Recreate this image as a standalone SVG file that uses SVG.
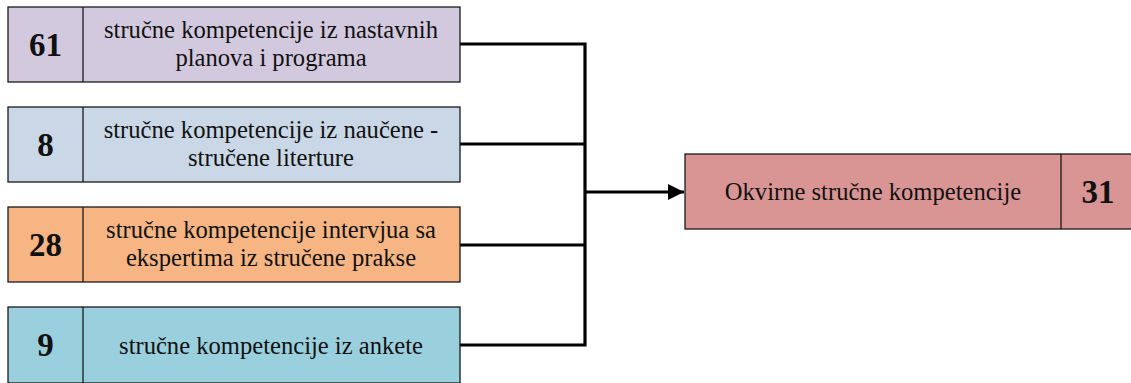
<svg xmlns="http://www.w3.org/2000/svg" width="1131" height="383" viewBox="0 0 1131 383">
<style>
.box{stroke:#1a1a1a;stroke-width:1.3}
.div{stroke:#1a1a1a;stroke-width:1.3}
.t{font-family:"Liberation Serif","Times New Roman",serif;font-size:24.6px;fill:#111;text-anchor:middle}
.n{font-family:"Liberation Serif","Times New Roman",serif;font-size:33px;font-weight:bold;fill:#111;text-anchor:middle}
.c{fill:none;stroke:#000;stroke-width:3.2}
</style>
<defs>
<marker id="arr" viewBox="0 0 10 10" refX="10" refY="5" markerWidth="5" markerHeight="5" markerUnits="strokeWidth" orient="auto">
<path d="M0,0 L10,5 L0,10 z" fill="#000"/>
</marker>
</defs>
<rect width="1131" height="383" fill="#fff"/>
<g id="connectors">
<path class="c" d="M459,44 H585 M459,144 H585 M459,245 H585 M459,345 H585 M585,42.5 V346.5"/>
<path class="c" d="M585,192 H684" marker-end="url(#arr)"/>
</g>
<g id="node1">
<rect class="box" x="8" y="7" width="452" height="75" fill="#D3C9DF"/>
<line class="div" x1="83" y1="7" x2="83" y2="82"/>
<text class="n" x="45.5" y="55.5">61</text>
<text class="t" x="271" y="37.5">stručne kompetencije iz nastavnih</text>
<text class="t" x="271" y="65.5">planova i programa</text>
</g>
<g id="node2">
<rect class="box" x="8" y="107" width="452" height="75" fill="#C9D7E6"/>
<line class="div" x1="83" y1="107" x2="83" y2="182"/>
<text class="n" x="45.5" y="155.5">8</text>
<text class="t" x="271" y="137.5">stručne kompetencije iz naučene -</text>
<text class="t" x="271" y="165.5">stručene literture</text>
</g>
<g id="node3">
<rect class="box" x="8" y="207" width="452" height="75" fill="#F6B583"/>
<line class="div" x1="83" y1="207" x2="83" y2="282"/>
<text class="n" x="45.5" y="255.5">28</text>
<text class="t" x="271" y="237.5">stručne kompetencije intervjua sa</text>
<text class="t" x="271" y="265.5">ekspertima iz stručene prakse</text>
</g>
<g id="node4">
<rect class="box" x="8" y="307" width="452" height="76" fill="#9AD0DD"/>
<line class="div" x1="83" y1="307" x2="83" y2="383"/>
<text class="n" x="45.5" y="355.5">9</text>
<text class="t" x="271" y="353.5">stručne kompetencije iz ankete</text>
</g>
<g id="node5">
<rect class="box" x="685" y="154" width="452" height="75" fill="#D99594"/>
<line class="div" x1="1061" y1="154" x2="1061" y2="229"/>
<text class="t" x="873" y="200">Okvirne stručne kompetencije</text>
<text class="n" x="1098" y="202.5">31</text>
</g>
</svg>
